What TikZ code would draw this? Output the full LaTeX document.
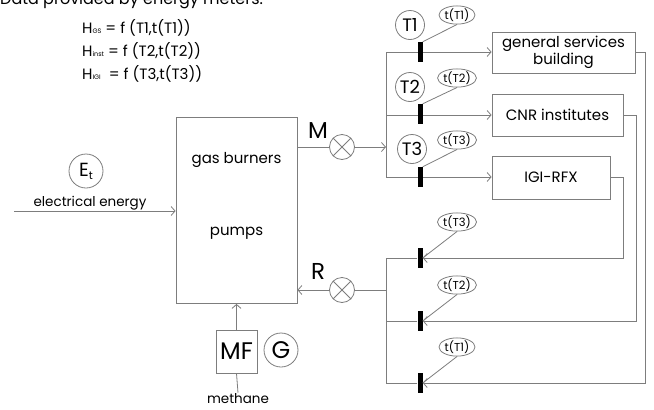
\documentclass[tikz,border=0pt]{standalone}
\usepackage{fontspec}
\setmainfont{Poppins}
\usetikzlibrary{arrows.meta,shapes.geometric}
\definecolor{ln}{RGB}{125,125,125}
\newcommand{\fs}[1]{\fontsize{#1}{#1}\selectfont}
\begin{document}
\begin{tikzpicture}[x=1pt,y=-1pt,
  lnk/.style={draw=ln, line width=0.8pt},
  arr/.style={lnk, -{Straight Barb[length=4pt,width=9pt,line width=0.8pt]}},
  boxn/.style={draw=ln, fill=white, line width=0.8pt, inner sep=0pt},
  barn/.style={fill=black, draw=none, minimum width=5pt, minimum height=20pt, inner sep=0pt},
  meter/.style={circle, draw=ln, fill=white, line width=0.8pt, minimum size=29pt, inner sep=0pt, font=\fs{18}},
  tagn/.style={ellipse, draw=ln, fill=white, line width=0.8pt, minimum width=36pt, minimum height=18pt, inner sep=0pt, font=\fs{11.5}},
  xcirc/.style={circle, draw=ln, fill=white, line width=0.8pt, minimum size=25pt, inner sep=0pt},
  big/.style={font=\fs{23}},
  txt/.style={font=\fs{15}}
]
\useasboundingbox (0,0) rectangle (654,410);

% title and formulas
\node[anchor=base west, inner sep=0pt, font=\fs{16}] (title) at (0,4) {Data provided by energy meters:};
\node[anchor=base west, inner sep=0pt, font=\fs{15}] (h1) at (82,33) {H{\fs{6.5}GS} = f (T1,t(T1))};
\node[anchor=base west, inner sep=0pt, font=\fs{15}] (h2) at (82,56) {H{\fs{6.5}inst} = f (T2,t(T2))};
\node[anchor=base west, inner sep=0pt, font=\fs{15}] (h3) at (82,79) {H{\fs{6.5}IGI}\ \ = f (T3,t(T3))};

% main box
\node[boxn, minimum width=121pt, minimum height=186pt] (main) at (236.5,210.5) {};
\node[txt] (gb) at (236.5,160) {gas burners};
\node[txt] (pm) at (236.5,233) {pumps};

% electrical energy
\coordinate (ein) at (14,211);
\draw[arr] (ein) -- (ein -| main.west);
\node[font=\fs{13.5}] (el) at (90,203) {electrical energy};
\node[circle, draw=ln, line width=0.8pt, minimum size=34pt, inner sep=0pt, font=\fs{19}] (et) at (86,171) {E\raisebox{-3pt}{\fs{11}t}};

% M flow
\node[xcirc] (xm) at (342,147) {};
\draw[lnk] (xm.45) -- (xm.225) (xm.135) -- (xm.315);
\draw[lnk] (xm -| main.east) -- (xm);
\node[big] (ml) at (318,131) {M};
\coordinate (jm) at (386,147);
\draw[arr] (xm) -- (jm);
\coordinate (f1) at (386,52);
\coordinate (f2) at (386,115);
\coordinate (f3) at (386,177);
\draw[lnk] (f1) -- (f3);

% user boxes
\node[boxn, minimum width=143pt, minimum height=41pt, align=center, font={\fontsize{15}{17}\selectfont}] (gsb) at (563.5,52.5) {general services\\building};
\node[boxn, minimum width=131pt, minimum height=42pt, txt] (cnr) at (557.5,115) {CNR institutes};
\node[boxn, minimum width=118pt, minimum height=43pt, txt] (igi) at (551,177.5) {IGI-RFX};

\draw[arr] (f1) -- (f1 -| gsb.west);
\draw[arr] (f2) -- (f2 -| cnr.west);
\draw[arr] (f3) -- (f3 -| igi.west);

% forward bars and meters
\node[barn] (fb1) at (420,52) {};
\node[barn] (fb2) at (420,114) {};
\node[barn] (fb3) at (420,177) {};
\node[meter] (T1) at (410,25) {T1};
\node[meter] (T2) at (410,87) {T2};
\node[meter] (T3) at (412,149) {T3};
\node[tagn] (tt1) at (457,15) {t(T1)};
\node[tagn] (tt2) at (457,78) {t(T2)};
\node[tagn] (tt3) at (457,140) {t(T3)};
\draw[lnk] (tt1.south) -- (fb1.north east);
\draw[lnk] (tt2.south) -- (fb2.north east);
\draw[lnk] (tt3.south) -- (fb3.north east);

% return lines
\node[barn] (rb3) at (420,258) {};
\node[barn] (rb2) at (420,321) {};
\node[barn] (rb1) at (420,383) {};
\coordinate (c1) at (645,383);
\coordinate (c2) at (636,321);
\coordinate (c3) at (623,258);
\draw[arr] (gsb.east) -| (c1) -- (rb1.east);
\draw[arr] (cnr.east) -| (c2) -- (rb2.east);
\draw[arr] (igi.east) -| (c3) -- (rb3.east);
\coordinate (r3) at (386,258);
\coordinate (r1) at (386,383);
\draw[lnk] (r3) -- (r1);
\draw[lnk] (rb3.west) -- (rb3.west -| r3);
\draw[lnk] (rb2.west) -- (rb2.west -| r3);
\draw[lnk] (rb1.west) -- (rb1.west -| r3);
\node[barn] at (rb3) {};
\node[barn] at (rb2) {};
\node[barn] at (rb1) {};
\node[tagn] (rt3) at (457,222) {t(T3)};
\node[tagn] (rt2) at (457,285) {t(T2)};
\node[tagn] (rt1) at (457,347) {t(T1)};
\draw[lnk] (rt3.south) -- (rb3.east);
\draw[lnk] (rt2.south) -- (rb2.east);
\draw[lnk] (rt1.south) -- (rb1.east);

% R flow
\coordinate (jr) at (386,290);
\node[xcirc] (xr) at (342,290) {};
\draw[lnk] (xr.45) -- (xr.225) (xr.135) -- (xr.315);
\draw[lnk] (jr) -- (xr);
\draw[arr] (xr) -- (xr -| main.east);
\node[big] (rl) at (318,271) {R};

% methane
\node[boxn, minimum width=41pt, minimum height=43pt, font=\fs{24}] (mf) at (236.5,351.5) {MF};
\draw[arr] (mf.north) -- (main.south);
\node[circle, draw=ln, line width=0.8pt, minimum size=34pt, inner sep=0pt, font=\fs{24}] (g) at (281,350) {G};
\node[font=\fs{13.5}, inner sep=1pt] (meth) at (238,399) {methane};
\draw[lnk] (mf.south) -- (meth.north);
\end{tikzpicture}
\end{document}
